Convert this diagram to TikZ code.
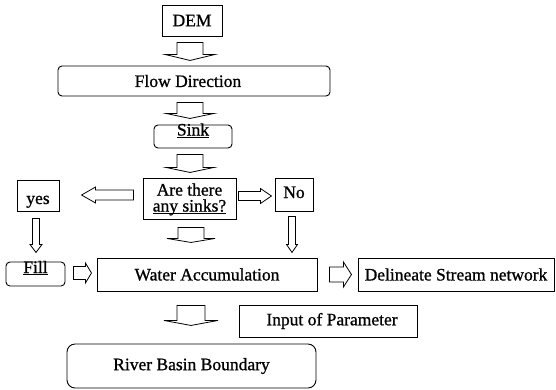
\documentclass[tikz,border=0pt]{standalone}
\usepackage{fontspec}
\setmainfont{Liberation Serif}[FakeBold=0.9]
\usetikzlibrary{calc}
\newcommand\ulx[1]{\underline{\smash{#1}}}
% #1 tail centre, #2 rotation (0 = right, 270 = down), #3 shaft length, #4 head length, #5 shaft half width, #6 head half width
\newcommand\barrow[6]{%
  \draw[blockarrow,shift={#1},rotate=#2] (0,#5) -- (#3,#5) -- (#3,#6) -- ({#3+#4},0) -- (#3,-#6) -- (#3,-#5) -- (0,-#5) -- cycle;}
\begin{document}
\begin{tikzpicture}[x=1pt,y=-1pt,
  every node/.style={font=\fontsize{17.5}{16}\selectfont, inner sep=0pt},
  box/.style={draw, line width=0.9pt, align=center},
  rbox/.style={box, rounded corners=4pt},
  blockarrow/.style={draw, line width=0.8pt, line join=miter}]
\useasboundingbox (0,0) rectangle (556,389);
\node[box, minimum width=60pt, minimum height=31pt] (dem) at (192,20.5) {DEM};
\node[rbox, minimum width=272pt, minimum height=30pt] (flow) at (194,81) {\hspace*{-12pt}Flow Direction};
\node[rbox, minimum width=78pt, minimum height=23pt] (sink) at (193,136.5) {\ulx{Sink}};
\node[box, minimum width=93pt, minimum height=41pt] (ask) at (189.5,198.5) {Are there\\\ulx{any sinks?}};
\node[box, minimum width=42pt, minimum height=31pt, text height=17pt, text depth=0pt] (yes) at (38,195.5) {yes};
\node[box, minimum width=38pt, minimum height=33pt, text height=7pt, text depth=0pt] (no) at (294,194.5) {No};
\node[rbox, minimum width=59pt, minimum height=24pt] (fill) at (35.5,274) {\ulx{Fill}};
\node[box, minimum width=220pt, minimum height=33pt] (water) at (207,274.5) {Water Accumulation};
\node[box, minimum width=196pt, minimum height=33pt] (delin) at (456,274.5) {Delineate Stream network};
\node[box, minimum width=178pt, minimum height=32pt] (input) at (328,321) {\hspace*{8pt}Input of Parameter};
\node[box, rounded corners=8pt, minimum width=249pt, minimum height=44pt] (river) at (191.5,366) {River Basin Boundary};
% block arrows placed between the named boxes
\barrow{($(dem.south)+(-2,6)$)}{270}{12}{6}{13}{25}
\barrow{($(flow.south)+(-4,6)$)}{270}{11}{5}{13}{24}
\barrow{($(sink.south)+(-3,6)$)}{270}{13}{5}{13}{24}
\barrow{($(ask.south)+(1.5,8)$)}{270}{11}{4}{13}{24}
\barrow{($(water.south)+(-16,14)$)}{270}{15}{5}{14}{27}
\barrow{($(ask.west)+(-9,-3.5)$)}{180}{38}{14}{5}{8}
\barrow{($(ask.east)+(2,-2.5)$)}{0}{22}{11}{4.5}{7.5}
\barrow{($(yes.south)+(-2,7)$)}{270}{26}{8}{3.5}{6}
\barrow{($(no.south)+(-2,5)$)}{270}{28}{8}{3.5}{5.5}
\barrow{($(fill.east)+(8,-1)$)}{0}{12}{6}{6.5}{10}
\barrow{($(water.east)+(12,0)$)}{0}{14}{8}{7.5}{12.5}
\end{tikzpicture}
\end{document}
